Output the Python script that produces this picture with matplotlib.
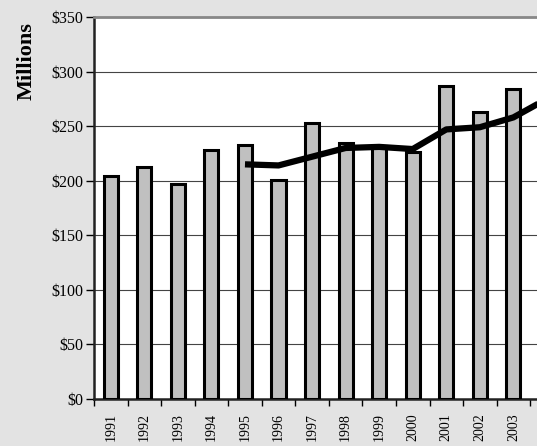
import numpy as np
import matplotlib.pyplot as plt

# bar values, $ millions
bar_years = ['1991', '1992', '1993', '1994', '1995', '1996', '1997',
             '1998', '1999', '2000', '2001', '2002', '2003']
bar_values = [204, 213, 197, 228, 233, 201, 253, 235, 232, 226, 287, 263, 284]

# trend line (starts 1995, runs past the right edge)
line_years = ['1995', '1996', '1997', '1998', '1999', '2000', '2001',
              '2002', '2003', '2004']
line_values = [215, 214, 222, 230, 231, 229, 247, 249, 258, 275]

y_ticks = [0, 50, 100, 150, 200, 250, 300, 350]

all_years = [str(y) for y in range(1991, 2006)]
pos = {y: i for i, y in enumerate(all_years)}

plt.rcParams['font.family'] = ['Liberation Serif', 'DejaVu Serif']

fig = plt.figure(figsize=(5.37, 4.46), dpi=100)
fig.patch.set_facecolor('#e3e3e3')

spacing = 33.55 / 537  # one category in figure units
left = 94 / 537
ax = fig.add_axes([left, 1 - 399 / 446, spacing * len(all_years), (399 - 17) / 446])
ax.set_facecolor('white')

xb = [pos[y] for y in bar_years]
ax.bar(xb, bar_values, width=0.42, color='#c0c0c0', edgecolor='black',
       linewidth=2.2, zorder=3)
xl = [pos[y] for y in line_years]
ax.plot(xl, line_values, color='black', linewidth=4.5, zorder=4,
        solid_capstyle='butt', solid_joinstyle='round')

ax.set_xlim(-0.5, len(all_years) - 0.5)
ax.set_ylim(0, 350)
ax.set_yticks(y_ticks)
ax.set_yticklabels(['$%d' % v for v in y_ticks], fontsize=11.5)
ax.yaxis.grid(True, color='#444444', linewidth=0.8, zorder=0)
ax.tick_params(axis='y', length=6, width=1, direction='out', pad=2)

ax.set_xticks(np.arange(-0.5, len(all_years), 1))
ax.set_xticklabels([])
ax.set_xticks(xb, minor=True)
ax.set_xticklabels(bar_years, minor=True, rotation=90, fontsize=10)
ax.tick_params(axis='x', which='major', length=5, width=1, direction='out')
ax.tick_params(axis='x', which='minor', length=0, pad=10)

for s in ['left', 'bottom']:
    ax.spines[s].set_linewidth(1.8)
    ax.spines[s].set_color('#222222')
ax.spines['top'].set_linewidth(2)
ax.spines['top'].set_color('#888888')
ax.spines['right'].set_visible(False)

fig.text(27 / 537, 1 - 61 / 446, 'Millions', rotation=90, fontsize=16,
         fontweight='bold', ha='center', va='center')

fig.savefig('out.png', dpi=100, facecolor=fig.get_facecolor())
